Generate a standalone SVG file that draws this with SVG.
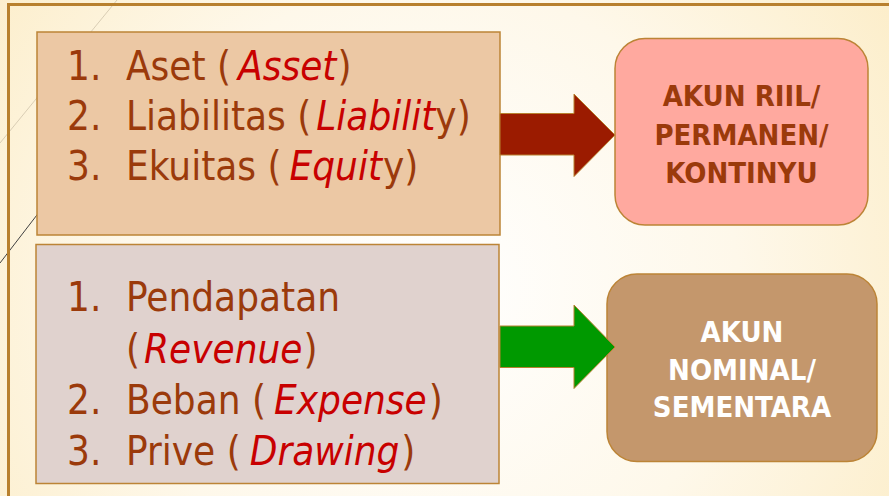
<svg xmlns="http://www.w3.org/2000/svg" width="889" height="496" viewBox="0 0 889 496">
  <defs>
    <radialGradient id="bg" cx="430" cy="290" r="560" gradientUnits="userSpaceOnUse">
      <stop offset="0" stop-color="#FFFFFF"/>
      <stop offset="0.55" stop-color="#FEF8EA"/>
      <stop offset="1" stop-color="#FCEDC8"/>
    </radialGradient>
    <style>
      .frame { stroke: #B8802E; stroke-width: 3; fill: none; }
      .box { stroke: #BC8436; stroke-width: 1.5; }
      .item { font-family: "DejaVu Sans Condensed", "DejaVu Sans", sans-serif; font-size: 40px; fill: #9B3A0B; }
      .en { font-style: italic; fill: #C80000; }
      .label { font-family: "DejaVu Sans Condensed", "DejaVu Sans", sans-serif; font-size: 29px; font-weight: bold; text-anchor: middle; }
      .arrow { stroke: #B8812F; stroke-width: 1; }
    </style>
  </defs>

  <!-- slide background and decorative lines -->
  <rect x="0" y="0" width="889" height="496" fill="url(#bg)"/>
  <line x1="117" y1="0" x2="0" y2="143" stroke="#D9CDB4" stroke-width="1"/>
  <line x1="60" y1="185" x2="0" y2="263" stroke="#404040" stroke-width="1"/>
  <path class="frame" d="M889,4.5 H8.5 V496"/>

  <!-- real accounts list -->
  <g id="real-accounts">
    <rect class="box" x="37" y="32" width="463" height="203" fill="#ECC8A4"/>
    <text class="item" x="67" y="79.5">1.</text>
    <text class="item" x="126" y="79.5">Aset (<tspan class="en" dx="7">Asset</tspan><tspan dx="1">)</tspan></text>
    <text class="item" x="67" y="129.5">2.</text>
    <text class="item" x="126" y="129.5">Liabilitas (<tspan class="en" dx="5">Liabilit</tspan><tspan dx="0">y)</tspan></text>
    <text class="item" x="67" y="180">3.</text>
    <text class="item" x="126" y="180">Ekuitas (<tspan class="en" dx="8">Equit</tspan><tspan dx="1">y)</tspan></text>
  </g>

  <!-- nominal accounts list -->
  <g id="nominal-accounts">
    <rect class="box" x="36" y="244.5" width="463" height="239" fill="#E0D2CE"/>
    <text class="item" x="67" y="311">1.</text>
    <text class="item" x="126" y="311">Pendapatan</text>
    <text class="item" x="126" y="363">(<tspan class="en" dx="4">Revenue</tspan><tspan dx="1">)</tspan></text>
    <text class="item" x="67" y="414">2.</text>
    <text class="item" x="126" y="414">Beban (<tspan class="en" dx="8">Expense</tspan><tspan dx="2">)</tspan></text>
    <text class="item" x="67" y="465">3.</text>
    <text class="item" x="126" y="465">Prive (<tspan class="en" dx="9">Drawing</tspan><tspan dx="2">)</tspan></text>
  </g>

  <!-- result boxes -->
  <g id="akun-riil">
    <rect class="box" x="615" y="38.5" width="253" height="186.5" rx="30" fill="#FFA99F"/>
    <text class="label" x="741.5" y="106" fill="#9B3A0B">AKUN RIIL/</text>
    <text class="label" x="741.5" y="144.5" fill="#9B3A0B">PERMANEN/</text>
    <text class="label" x="741.5" y="183" fill="#9B3A0B">KONTINYU</text>
  </g>

  <g id="akun-nominal">
    <rect class="box" x="607" y="274" width="270" height="187.5" rx="30" fill="#C4976C"/>
    <text class="label" x="742" y="342" fill="#FFFFFF">AKUN</text>
    <text class="label" x="742" y="380" fill="#FFFFFF">NOMINAL/</text>
    <text class="label" x="742" y="417" fill="#FFFFFF">SEMENTARA</text>
  </g>

  <!-- block arrows -->
  <g id="connectors">
    <path class="arrow" fill="#9B1B00" d="M500,113.5 H574 V94 L615,135 L574,176.5 V155 H500 Z"/>
    <path class="arrow" fill="#009900" d="M500,326 H574 V305 L615,347 L574,388.5 V367.5 H500 Z"/>
  </g>
</svg>
